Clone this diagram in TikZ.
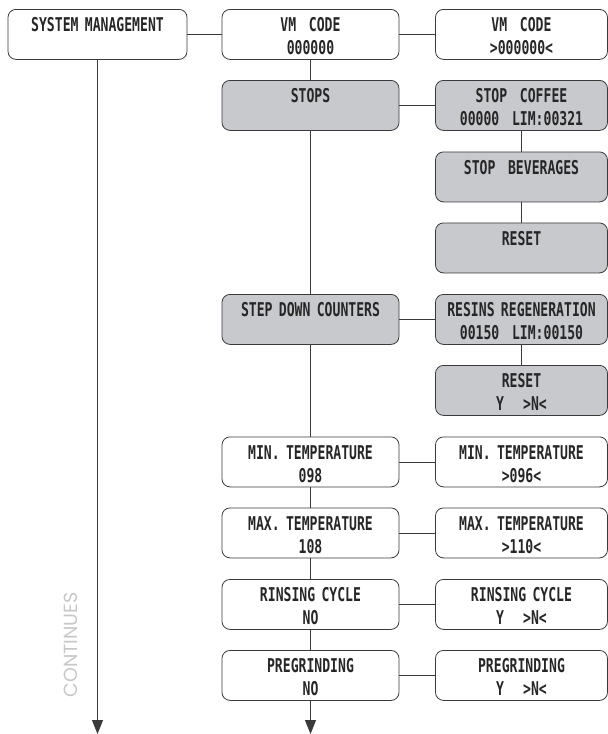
\documentclass[tikz,border=0pt]{standalone}
\usepackage{fontspec}
\usetikzlibrary{arrows.meta}
\newfontfamily\lcdfamily[FakeStretch=0.69]{DejaVu Sans Mono}
\newfontfamily\contfamily{Poppins}
\definecolor{boxgrey}{RGB}{200,201,205}
\definecolor{lineblack}{RGB}{58,58,58}

\begin{document}
\begin{tikzpicture}[x=1pt, y=-1pt,
    menu_node/.style={draw=lineblack, line width=0.8pt, rounded corners=8pt, anchor=north,
        minimum width=177pt, text width=170pt, align=center, inner xsep=0pt, inner ysep=4.5pt,
        text height=18pt, text depth=23pt, text=black!85,
        font=\fontsize{19}{23}\selectfont\lcdfamily\bfseries},
    grey_node/.style={menu_node, fill=boxgrey},
    set_node/.style={minimum width=172pt, text width=165pt},
    conn/.style={draw=lineblack, line width=0.8pt},
    down_arrow/.style={conn, -{Triangle[width=11pt,length=14pt]}}]
    \useasboundingbox (0,0) rectangle (608,734);

    \node[menu_node, minimum width=179pt] (sysmgmt) at (97.5, 9) {SYSTEM MANAGEMENT};
    \node[menu_node] (vmcode) at (310.5, 9) {VM~ CODE\\000000};
    \node[menu_node, set_node] (vmcodeset) at (521.5, 9) {VM~ CODE\\>000000<};

    \node[grey_node] (stops) at (310.5, 80) {STOPS};
    \node[grey_node, set_node] (stopcoffee) at (521.5, 80) {STOP~ COFFEE\\00000~ LIM:00321};
    \node[grey_node, set_node] (stopbev) at (521.5, 151.5) {STOP~ BEVERAGES};
    \node[grey_node, set_node] (stopreset) at (521.5, 222.5) {RESET};

    \node[grey_node] (stepdown) at (310.5, 294) {STEP DOWN COUNTERS};
    \node[grey_node, set_node] (resins) at (521.5, 294) {RESINS REGENERATION\\00150~ LIM:00150};
    \node[grey_node, set_node] (resinsreset) at (521.5, 365) {RESET\\Y~~ >N<};

    \node[menu_node] (mintemp) at (310.5, 436.5) {MIN. TEMPERATURE\\098};
    \node[menu_node, set_node] (mintempset) at (521.5, 436.5) {MIN. TEMPERATURE\\>096<};
    \node[menu_node] (maxtemp) at (310.5, 507.5) {MAX. TEMPERATURE\\108};
    \node[menu_node, set_node] (maxtempset) at (521.5, 507.5) {MAX. TEMPERATURE\\>110<};
    \node[menu_node] (rinsing) at (310.5, 579) {RINSING CYCLE\\NO};
    \node[menu_node, set_node] (rinsingset) at (521.5, 579) {RINSING CYCLE\\Y~~ >N<};
    \node[menu_node] (pregrind) at (310.5, 650) {PREGRINDING\\NO};
    \node[menu_node, set_node] (pregrindset) at (521.5, 650) {PREGRINDING\\Y~~ >N<};

    \node[rotate=90, text=black!22, font=\fontsize{19}{19}\selectfont\contfamily] (continues) at (71, 645) {CONTINUES};

    \coordinate (leftend) at (97.5, 734);
    \coordinate (midend) at (310.5, 734);

    \draw[conn] (sysmgmt) -- (vmcode);
    \draw[conn] (vmcode) -- (vmcodeset);
    \draw[conn] (stops) -- (stopcoffee);
    \draw[conn] (stepdown) -- (resins);
    \draw[conn] (mintemp) -- (mintempset);
    \draw[conn] (maxtemp) -- (maxtempset);
    \draw[conn] (rinsing) -- (rinsingset);
    \draw[conn] (pregrind) -- (pregrindset);

    \draw[conn] (vmcode) -- (stops);
    \draw[conn] (stops) -- (stepdown);
    \draw[conn] (stepdown) -- (mintemp);
    \draw[conn] (mintemp) -- (maxtemp);
    \draw[conn] (maxtemp) -- (rinsing);
    \draw[conn] (rinsing) -- (pregrind);
    \draw[down_arrow] (pregrind) -- (midend);

    \draw[conn] (stopcoffee) -- (stopbev);
    \draw[conn] (stopbev) -- (stopreset);
    \draw[conn] (resins) -- (resinsreset);

    \draw[down_arrow] (sysmgmt) -- (leftend);
\end{tikzpicture}
\end{document}
